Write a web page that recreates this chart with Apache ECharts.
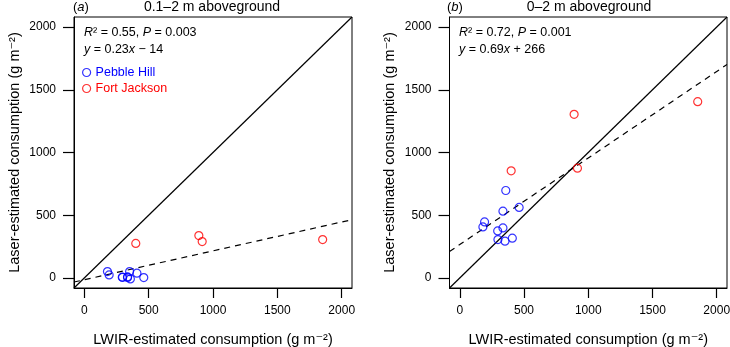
<!DOCTYPE html>
<html>
<head>
<meta charset="utf-8">
<script src="https://cdn.jsdelivr.net/npm/echarts@6/dist/echarts.min.js"></script>
<style>
  html, body { margin: 0; padding: 0; background: #fff; }
  #chart { width: 730px; height: 347px; }
</style>
</head>
<body>
<div id="chart"></div>
<script>
// LWIR-estimated consumption (g m-2), same for both panels
const pebbleHillLwir = [180, 193, 295, 297, 336, 336, 352, 358, 409, 462];
const fortJacksonLwir = [400, 890, 916, 1852];
// laser-estimated consumption, panel (a) 0.1-2 m
const pebbleHillLaserA = [51, 24, 6, 5, 4, 8, 51, -8, 38, 3];
const fortJacksonLaserA = [275, 338, 290, 306];
// panel (b) 0-2 m
const pebbleHillLaserB = [407, 447, 375, 306, 532, 399, 293, 697, 317, 562];
const fortJacksonLaserB = [854, 1304, 875, 1405];
// fitted lines: [slope, intercept]
const fitA = [0.23, -14];
const fitB = [0.69, 266];
const tickValues = [0, 500, 1000, 1500, 2000];
const axisMin = -80, axisMax = 2080;

const font = '"Liberation Sans", Arial, "DejaVu Sans", sans-serif';
const blue = '#0000ff', red = '#ff0000';

function zip(xs, ys) {
    return xs.map((x, i) => [x, ys[i]]);
}
function lineData(slope, intercept) {
    return [axisMin, axisMax].map(x => [x, slope * x + intercept]);
}

function makeX(gridIndex) {
    return {
        gridIndex: gridIndex,
        type: 'value',
        min: axisMin,
        max: axisMax,
        name: 'LWIR-estimated consumption (g m\u207B\u00B2)',
        nameLocation: 'middle',
        nameGap: 44,
        nameTextStyle: { color: '#000', fontSize: 14.5, fontFamily: font },
        axisLine: { show: true, onZero: false, lineStyle: { color: '#000', width: 1 } },
        axisTick: { show: true, inside: false, length: 10, customValues: tickValues, lineStyle: { color: '#000', width: 1.2 } },
        axisLabel: { customValues: tickValues, formatter: v => String(v), color: '#000', fontSize: 12, fontFamily: font, margin: 17 },
        splitLine: { show: false },
    };
}
function makeY(gridIndex) {
    return {
        gridIndex: gridIndex,
        type: 'value',
        min: axisMin,
        max: axisMax,
        name: 'Laser-estimated consumption (g m\u207B\u00B2)',
        nameLocation: 'middle',
        nameRotate: 90,
        nameGap: 52,
        nameTextStyle: { color: '#000', fontSize: 14.5, fontFamily: font },
        axisLine: { show: true, onZero: false, lineStyle: { color: '#000', width: 1 } },
        axisTick: { show: true, inside: false, length: 11, customValues: tickValues, lineStyle: { color: '#000', width: 1.2 } },
        axisLabel: { customValues: tickValues, formatter: v => String(v), color: '#000', fontSize: 12, fontFamily: font, margin: 18 },
        splitLine: { show: false },
    };
}
function scatter(name, idx, data, color) {
    return {
        name: name,
        type: 'scatter',
        xAxisIndex: idx,
        yAxisIndex: idx,
        data: data,
        symbol: 'circle',
        symbolSize: 8,
        itemStyle: { color: 'rgba(0,0,0,0)', borderColor: color, borderWidth: 1.2 },
        z: 3,
    };
}
function fitLine(idx, data, dashed) {
    return {
        type: 'line',
        xAxisIndex: idx,
        yAxisIndex: idx,
        data: data,
        showSymbol: false,
        symbol: 'none',
        clip: true,
        silent: true,
        lineStyle: { color: '#000', width: 1.2, type: dashed ? [6, 5] : 'solid' },
        z: 2,
    };
}
function label(x, y, text, size, align) {
    return {
        type: 'text',
        x: x,
        y: y,
        style: {
            text: text,
            fill: '#000',
            font: size + 'px ' + font,
            align: align || 'left',
            verticalAlign: 'middle',
            rich: { i: { fontStyle: 'italic', fontSize: size, fontFamily: font } },
        },
    };
}

const option = {
    animation: false,
    backgroundColor: '#fff',
    grid: [
        { left: 74, right: 378, top: 17, bottom: 59, show: true, borderColor: '#000', borderWidth: 1, outerBoundsMode: 'none' },
        { left: 449.5, right: 3, top: 17, bottom: 59, show: true, borderColor: '#000', borderWidth: 1, outerBoundsMode: 'none' },
    ],
    xAxis: [makeX(0), makeX(1)],
    yAxis: [makeY(0), makeY(1)],
    legend: {
        orient: 'vertical',
        left: 82,
        top: 66,
        padding: 0,
        itemWidth: 8,
        itemHeight: 8,
        itemGap: 3,
        textStyle: { fontSize: 12.5, fontFamily: font },
        data: [
            { name: 'Pebble Hill', icon: 'circle', itemStyle: { color: 'rgba(0,0,0,0)', borderColor: blue, borderWidth: 1.2 }, textStyle: { color: blue } },
            { name: 'Fort Jackson', icon: 'circle', itemStyle: { color: 'rgba(0,0,0,0)', borderColor: red, borderWidth: 1.2 }, textStyle: { color: red } },
        ],
    },
    graphic: [
        label(73, 7, '({i|a})', 13),
        label(212, 7, '0.1\u20132 m aboveground', 14, 'center'),
        label(84, 33, '{i|R}\u00B2 = 0.55, {i|P} = 0.003', 12.5),
        label(84, 50, '{i|y} = 0.23{i|x} \u2212 14', 12.5),
        label(447, 7, '({i|b})', 13),
        label(589, 7, '0\u20132 m aboveground', 14, 'center'),
        label(459, 33, '{i|R}\u00B2 = 0.72, {i|P} = 0.001', 12.5),
        label(459, 50, '{i|y} = 0.69{i|x} + 266', 12.5),
    ],
    series: [
        fitLine(0, lineData(1, 0), false),
        fitLine(0, lineData(fitA[0], fitA[1]), true),
        scatter('Pebble Hill', 0, zip(pebbleHillLwir, pebbleHillLaserA), blue),
        scatter('Fort Jackson', 0, zip(fortJacksonLwir, fortJacksonLaserA), red),
        fitLine(1, lineData(1, 0), false),
        fitLine(1, lineData(fitB[0], fitB[1]), true),
        scatter('Pebble Hill', 1, zip(pebbleHillLwir, pebbleHillLaserB), blue),
        scatter('Fort Jackson', 1, zip(fortJacksonLwir, fortJacksonLaserB), red),
    ],
};

const myChart = echarts.init(document.getElementById('chart'), null, { renderer: 'canvas' });
myChart.setOption(option);
</script>
</body>
</html>
